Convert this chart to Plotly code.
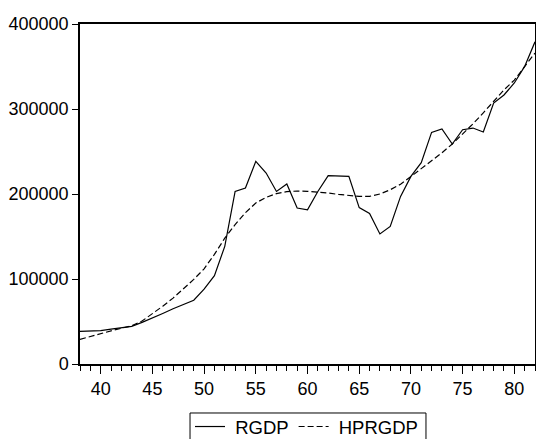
import plotly.graph_objects as go

years = list(range(38, 83))
rgdp = [38400, 38600, 39200, 41000, 42700, 44200, 49000, 54000, 59500, 65000,
        70000, 75000, 88000, 104000, 138400, 203000, 207000, 238400, 224700, 203000,
        211800, 183500, 181500, 203000, 221500, 221300, 220700, 184000, 177000, 153000,
        161900, 197200, 220700, 236800, 272500, 276500, 258800, 275600, 277600, 272900,
        307000, 316500, 330600, 350100, 379000]
hprgdp = [29000, 32500, 36000, 39000, 42000, 45000, 50500, 59000, 68000, 77500,
          88000, 99500, 112000, 129000, 148000, 164000, 178000, 189400, 196000, 200500,
          202800, 203500, 203200, 202500, 201200, 199500, 198000, 197200, 197200, 200000,
          205000, 211500, 220500, 229500, 238500, 248500, 258800, 270500, 282500, 295500,
          309000, 322500, 334000, 350000, 365900]

FONT = "Liberation Sans, Arial, sans-serif"

fig = go.Figure()
fig.add_trace(go.Scatter(x=years, y=rgdp, mode="lines", name=" RGDP",
                         line=dict(color="black", width=1.2)))
fig.add_trace(go.Scatter(x=years, y=hprgdp, mode="lines", name=" HPRGDP",
                         line=dict(color="black", width=1.2, dash="6px,3px")))

fig.update_layout(
    width=536, height=439,
    margin=dict(l=80, r=1, t=24, b=75, autoexpand=False),
    paper_bgcolor="white", plot_bgcolor="white",
    font=dict(family=FONT, size=18, color="black"),
    showlegend=True,
    legend=dict(orientation="h", x=0.2418, xanchor="left", y=-0.1294, yanchor="top",
                borderwidth=0, bgcolor="rgba(0,0,0,0)",
                font=dict(family=FONT, size=18.5, color="black"),
                itemwidth=30, tracegroupgap=0),
    shapes=[dict(type="rect", xref="paper", yref="paper",
                 x0=0.2418, x1=0.7604, y0=-0.26, y1=-0.1441,
                 line=dict(color="black", width=1), fillcolor="rgba(0,0,0,0)",
                 layer="below")],
)
fig.update_xaxes(range=[38, 82], tickmode="linear", tick0=40, dtick=5,
                 ticks="outside", ticklen=8, tickwidth=1, tickcolor="black",
                 showline=True, linecolor="black", linewidth=1.5, mirror=True,
                 showgrid=False, zeroline=False,
                 minor=dict(dtick=1, tick0=38, ticks="outside", ticklen=5,
                            tickwidth=1, tickcolor="black", showgrid=False))
fig.update_yaxes(range=[0, 400000], tickmode="linear", tick0=0, dtick=100000,
                 tickformat="d", ticks="outside", ticklen=6, tickwidth=1,
                 tickcolor="black", showline=True, linecolor="black",
                 linewidth=1.5, mirror=True, showgrid=False, zeroline=False)

fig.write_html("out.html")
